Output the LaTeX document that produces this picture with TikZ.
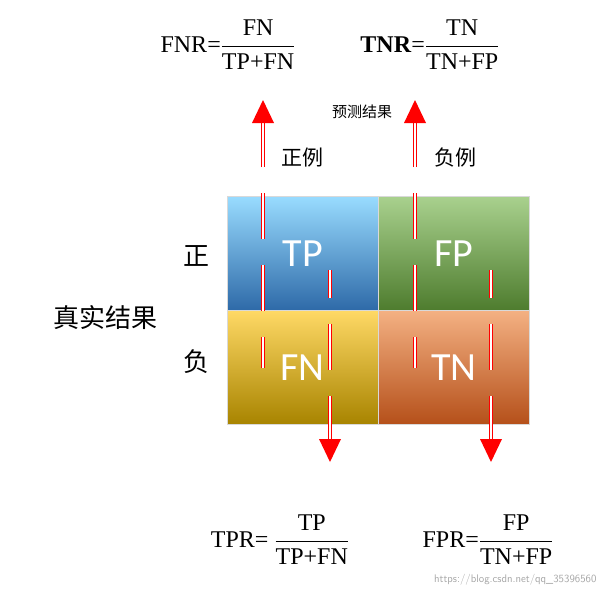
\documentclass[tikz,border=0pt]{standalone}
\usepackage{fontspec}
\setmainfont{Liberation Serif}
\newfontfamily\cjk{Noto Sans CJK SC}
\newfontfamily\carl{Carlito}
\usetikzlibrary{arrows.meta}
\begin{document}
\begin{tikzpicture}[x=1pt,y=-1pt,
 cell/.style={draw=black!15,minimum width=151pt,minimum height=114pt,inner sep=0pt,text=white,font=\carl\fontsize{40}{40}\selectfont},
 rarrow/.style={draw=red,double=white,double distance=1.2pt,line width=1.8pt,dash pattern=on 46pt off 26pt},
 head/.style={fill=red,draw=none},
 lab/.style={font=\cjk\fontsize{21}{21}\selectfont},
 frm/.style={font=\fontsize{24}{24}\selectfont,inner sep=1pt}]
\useasboundingbox (0,0) rectangle (606,597);
\node[cell,anchor=north west,top color=blue!35!cyan!40!white,bottom color={rgb,255:red,46;green,106;blue,168}] (tp) at (227,196) {TP};
\node[cell,anchor=north west,top color={rgb,255:red,169;green,209;blue,142},bottom color={rgb,255:red,78;green,124;blue,46}] (fp) at (378,196) {FP};
\node[cell,anchor=north west,top color={rgb,255:red,255;green,217;blue,102},middle color={rgb,255:red,255;green,192;blue,0},bottom color={rgb,255:red,168;green,132;blue,0}] (fn) at (227,310) {FN};
\node[cell,anchor=north west,top color={rgb,255:red,244;green,177;blue,131},middle color={rgb,255:red,237;green,125;blue,49},bottom color={rgb,255:red,181;green,80;blue,26}] (tn) at (378,310) {TN};
% arrows
\coordinate (u1s) at (263,368); \coordinate (u1e) at (263,122);
\coordinate (u2s) at (415,368); \coordinate (u2e) at (415,122);
\coordinate (d1s) at (330,270); \coordinate (d1e) at (330,440);
\coordinate (d2s) at (491,270); \coordinate (d2e) at (491,440);
\draw[rarrow,dash phase=15pt] (u1s) -- (u1e);
\draw[rarrow,dash phase=15pt] (u2s) -- (u2e);
\draw[rarrow,dash phase=18pt] (d1s) -- (d1e);
\draw[rarrow,dash phase=18pt] (d2s) -- (d2e);
\fill[head] (252,123) -- (274,123) -- (263,100) -- cycle;
\fill[head] (404,123) -- (426,123) -- (415,100) -- cycle;
\fill[head] (319,439) -- (341,439) -- (330,462) -- cycle;
\fill[head] (480,439) -- (502,439) -- (491,462) -- cycle;
% labels
\node[lab] (zl) at (302,158) {正例};
\node[lab] (fl) at (455,158) {负例};
\node[font=\cjk\fontsize{15}{15}\selectfont] (pr) at (362,112) {预测结果};
\node[font=\cjk\fontsize{26}{26}\selectfont] (z) at (196,256) {正};
\node[font=\cjk\fontsize{26}{26}\selectfont] (f) at (196,362) {负};
\node[font=\cjk\fontsize{26}{26}\selectfont] (tr) at (105,318) {真实结果};
% formulas
\node[frm] (fnr) at (228,45) {FNR=$\displaystyle\frac{\textrm{FN}}{\textrm{TP+FN}}$};
\node[frm] (tnr) at (430,45) {\textbf{TNR}=$\displaystyle\frac{\textrm{TN}}{\textrm{TN+FP}}$};
\node[frm] (tpr) at (280,540) {TPR= $\displaystyle\frac{\textrm{TP}}{\textrm{TP+FN}}$};
\node[frm] (fpr) at (488,540) {FPR=$\displaystyle\frac{\textrm{FP}}{\textrm{TN+FP}}$};
\node[font=\sffamily\fontsize{11}{11}\selectfont,text=black!35,anchor=east] (wm) at (600,580) {https://blog.csdn.net/qq\_35396560};
\end{tikzpicture}
\end{document}
